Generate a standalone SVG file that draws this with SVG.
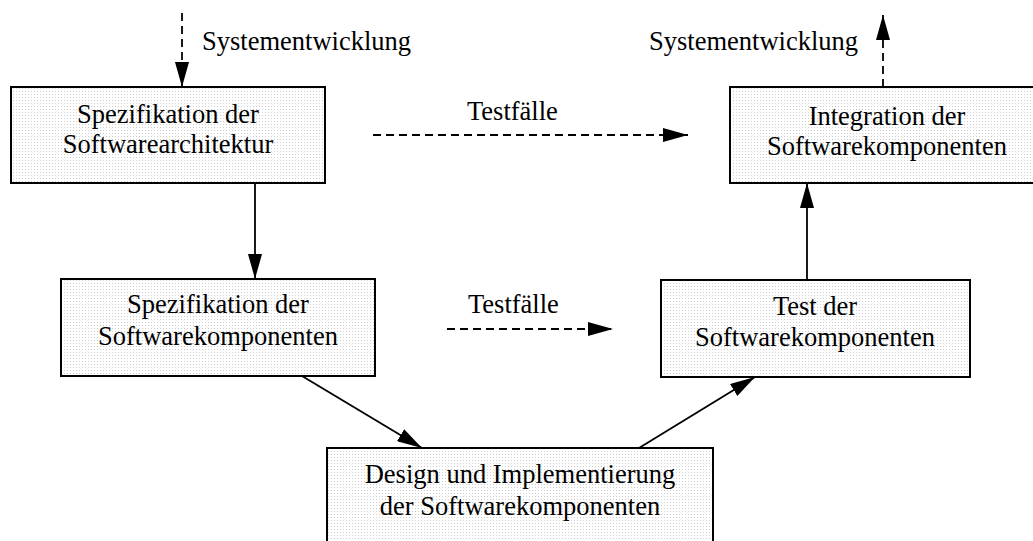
<svg xmlns="http://www.w3.org/2000/svg" width="1033" height="541" viewBox="0 0 1033 541">
  <defs>
    <!-- fine halftone fill used inside every box -->
    <pattern id="dots" width="3" height="3" patternUnits="userSpaceOnUse">
      <rect width="3" height="3" fill="#ffffff"/>
      <rect x="1" y="1" width="1" height="1" fill="#cfcfcf"/>
    </pattern>
    <marker id="arrow" markerUnits="userSpaceOnUse" markerWidth="26" markerHeight="14" refX="25" refY="7" orient="auto">
      <path d="M0,0 L25,7 L0,14 z" fill="#000"/>
    </marker>
  </defs>
  <style>
    .box { fill: url(#dots); stroke: #000; stroke-width: 2; }
    .lbl { font-family: "Liberation Serif", "Times New Roman", serif; font-size: 26.5px; fill: #000; }
    .c { text-anchor: middle; }
    .edge { stroke: #000; stroke-width: 1.8; fill: none; marker-end: url(#arrow); }
    .dash { stroke-dasharray: 8 5; }
  </style>

  <rect width="1033" height="541" fill="#fff"/>

  <!-- connectors -->
  <g id="connectors">
    <line class="edge dash" x1="182" y1="13" x2="182" y2="87"/>
    <line class="edge dash" x1="883" y1="87" x2="883" y2="15"/>
    <line class="edge dash" x1="373" y1="135" x2="688" y2="135"/>
    <line class="edge dash" x1="447" y1="329" x2="613" y2="329"/>
    <line class="edge" x1="255" y1="183" x2="255" y2="279"/>
    <line class="edge" x1="302" y1="376" x2="422" y2="448"/>
    <line class="edge" x1="639" y1="448" x2="755" y2="377"/>
    <line class="edge" x1="807" y1="280" x2="807" y2="183"/>
  </g>

  <!-- connector labels -->
  <g id="labels">
    <text class="lbl" x="202" y="50">Systementwicklung</text>
    <text class="lbl" x="649" y="50">Systementwicklung</text>
    <text class="lbl" x="467" y="120">Testfälle</text>
    <text class="lbl" x="468" y="313">Testfälle</text>
  </g>

  <g id="spec-architektur">
    <rect class="box" x="11" y="87" width="314" height="96"/>
    <text class="lbl c" x="168" y="123">Spezifikation der</text>
    <text class="lbl c" x="168" y="153">Softwarearchitektur</text>
  </g>

  <g id="spec-komponenten">
    <rect class="box" x="61" y="279" width="314" height="97"/>
    <text class="lbl c" x="218" y="313">Spezifikation der</text>
    <text class="lbl c" x="218" y="345">Softwarekomponenten</text>
  </g>

  <g id="design-implementierung">
    <rect class="box" x="327" y="448" width="386" height="110"/>
    <text class="lbl c" x="520" y="483">Design und Implementierung</text>
    <text class="lbl c" x="520" y="515">der Softwarekomponenten</text>
  </g>

  <g id="test-komponenten">
    <rect class="box" x="661" y="280" width="309" height="97"/>
    <text class="lbl c" x="815" y="315">Test der</text>
    <text class="lbl c" x="815" y="346">Softwarekomponenten</text>
  </g>

  <g id="integration">
    <rect class="box" x="730" y="87" width="315" height="96"/>
    <text class="lbl c" x="887" y="125">Integration der</text>
    <text class="lbl c" x="887" y="155">Softwarekomponenten</text>
  </g>
</svg>
